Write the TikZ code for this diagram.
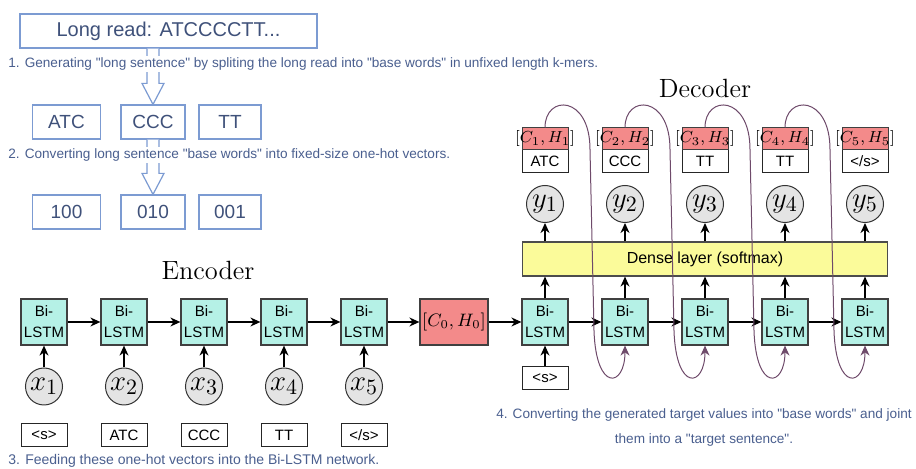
\documentclass[tikz,border=0pt]{standalone}
\usepackage{fontspec}
\newfontfamily\arialfont{Liberation Sans}
\usepackage{xcolor}
\definecolor{stepblue}{HTML}{4A5F8F}
\definecolor{boxblue}{HTML}{7C9BD2}
\definecolor{lstmcyan}{HTML}{B5F1E6}
\definecolor{statered}{HTML}{F38A8A}
\definecolor{denseyellow}{HTML}{FBFB9A}
\definecolor{circgray}{HTML}{E4E4E4}
\definecolor{loopplum}{HTML}{6E4A6A}
\usepackage{tikz}
\usetikzlibrary{arrows.meta,calc}

\begin{document}
\begin{tikzpicture}[
  x=0.5pt,y=-0.5pt,
  readbox/.style={draw=boxblue,line width=0.6pt,fill=white,minimum width=148.5pt,minimum height=17pt,inner sep=0pt,font=\arialfont\fontsize{10}{12}\selectfont,text=stepblue!85!black},
  stepbox/.style={draw=boxblue,line width=0.6pt,fill=white,minimum height=17pt,inner sep=0pt,font=\arialfont\fontsize{9.5}{11}\selectfont,text=stepblue!85!black},
  steptext/.style={fill=white,inner sep=1pt,text=stepblue,font=\arialfont\fontsize{6.8}{8}\selectfont},
  hollow/.style={draw=boxblue,fill=white,line width=0.6pt},
  title/.style={font=\fontsize{13.2}{15}\selectfont},
  lstm/.style={draw=black!75,line width=0.6pt,fill=lstmcyan,minimum size=23pt,inner sep=0pt,align=center,font=\arialfont\fontsize{7.5}{10.5}\selectfont},
  state/.style={draw=black!75,line width=0.6pt,fill=statered,minimum width=34pt,minimum height=23pt,inner sep=0pt,font=\fontsize{9}{10}\selectfont},
  chbox/.style={draw=black!75,line width=0.5pt,fill=statered,minimum width=23pt,minimum height=11pt,inner sep=0pt,font=\fontsize{8.2}{9}\selectfont},
  tok/.style={draw=black!85,line width=0.5pt,fill=white,minimum width=23pt,minimum height=11.5pt,inner sep=0pt,font=\arialfont\fontsize{7.5}{9}\selectfont},
  var/.style={circle,draw=black!80,line width=0.5pt,fill=circgray,minimum size=18.5pt,inner sep=0pt,font=\fontsize{15}{16}\selectfont},
  dense/.style={draw=black!70,line width=0.6pt,fill=denseyellow,minimum width=182.5pt,minimum height=17pt,inner sep=0pt,font=\arialfont\fontsize{8}{9}\selectfont},
  arr/.style={-{Stealth[length=5pt,width=4.5pt]},line width=0.75pt},
  fbcurve/.style={-{Stealth[length=5pt,width=4.5pt]},draw=loopplum,line width=0.5pt}
]
\useasboundingbox (0,0) rectangle (916,469);

% preprocessing of the long read
\node[readbox] (read) at (168.5,31) {Long read: ATCCCCTT...};
\node[stepbox,minimum width=34pt] (wATC) at (66.5,122) {ATC};
\node[stepbox,minimum width=32pt] (wCCC) at (153,122) {CCC};
\node[stepbox,minimum width=31pt] (wTT) at (230,122) {TT};
\node[stepbox,minimum width=34pt] (v100) at (66.5,212) {100};
\node[stepbox,minimum width=32pt] (v010) at (153,212) {010};
\node[stepbox,minimum width=31pt] (v001) at (230,212) {001};
\draw[hollow] ($(read.south -| wCCC.north)+(-6,0)$) -- ($(wCCC.north)+(-6,-21)$) -- ($(wCCC.north)+(-11,-21)$) -- (wCCC.north) -- ($(wCCC.north)+(11,-21)$) -- ($(wCCC.north)+(6,-21)$) -- ($(read.south -| wCCC.north)+(6,0)$);
\draw[hollow] ($(wCCC.south -| v010.north)+(-6,0)$) -- ($(v010.north)+(-6,-21)$) -- ($(v010.north)+(-11,-21)$) -- (v010.north) -- ($(v010.north)+(11,-21)$) -- ($(v010.north)+(6,-21)$) -- ($(wCCC.south -| v010.north)+(6,0)$);
\node[steptext,anchor=west] (step1) at (6,64) {1. Generating "long sentence" by spliting the long read into "base words" in unfixed length k-mers.};
\node[steptext,anchor=west] (step2) at (6,155) {2. Converting long sentence "base words" into fixed-size one-hot vectors.};

% encoder
\node[title] (enc) at (208,270) {Encoder};
\node[lstm] (e1) at (44,322) {Bi-\\LSTM};
\node[lstm] (e2) at (124,322) {Bi-\\LSTM};
\node[lstm] (e3) at (204,322) {Bi-\\LSTM};
\node[lstm] (e4) at (284,322) {Bi-\\LSTM};
\node[lstm] (e5) at (364,322) {Bi-\\LSTM};
\node[var] (x1) at (44,386.5) {$x_1$};
\node[var] (x2) at (124,386.5) {$x_2$};
\node[var] (x3) at (204,386.5) {$x_3$};
\node[var] (x4) at (284,386.5) {$x_4$};
\node[var] (x5) at (364,386.5) {$x_5$};
\node[tok] (t1) at (44,435.5) {<s>};
\node[tok] (t2) at (124,435.5) {ATC};
\node[tok] (t3) at (204,435.5) {CCC};
\node[tok] (t4) at (284,435.5) {TT};
\node[tok] (t5) at (364,435.5) {</s>};
\node[steptext,anchor=west,font=\arialfont\fontsize{7}{8}\selectfont] (step3) at (6,461) {3. Feeding these one-hot vectors into the Bi-LSTM network.};
\node[state] (c0) at (454,322) {$[C_0,H_0]$};

% decoder
\node[title] (dec) at (705,88) {Decoder};
\node[lstm] (d1) at (545,322) {Bi-\\LSTM};
\node[lstm] (d2) at (625,322) {Bi-\\LSTM};
\node[lstm] (d3) at (705,322) {Bi-\\LSTM};
\node[lstm] (d4) at (785,322) {Bi-\\LSTM};
\node[lstm] (d5) at (865,322) {Bi-\\LSTM};
\node[tok] (s0) at (545,378.5) {<s>};
\node[dense] (dense) at (705,259) {Dense layer (softmax)};
\node[var] (y1) at (545,204) {$y_1$};
\node[var] (y2) at (625,204) {$y_2$};
\node[var] (y3) at (705,204) {$y_3$};
\node[var] (y4) at (785,204) {$y_4$};
\node[var] (y5) at (865,204) {$y_5$};
\node[tok] (o1) at (545,161.5) {ATC};
\node[tok] (o2) at (625,161.5) {CCC};
\node[tok] (o3) at (705,161.5) {TT};
\node[tok] (o4) at (785,161.5) {TT};
\node[tok] (o5) at (865,161.5) {</s>};
\node[chbox] (h1) at (545,139) {\makebox[0pt]{$[C_1,H_1]$}};
\node[chbox] (h2) at (625,139) {\makebox[0pt]{$[C_2,H_2]$}};
\node[chbox] (h3) at (705,139) {\makebox[0pt]{$[C_3,H_3]$}};
\node[chbox] (h4) at (785,139) {\makebox[0pt]{$[C_4,H_4]$}};
\node[chbox] (h5) at (865,139) {\makebox[0pt]{$[C_5,H_5]$}};
\node[steptext,align=center,font=\arialfont\fontsize{6.8}{12.5}\selectfont] (step4) at (704,427.5) {4. Converting the generated target values into "base words" and joint\\them into a "target sentence".};

% connections
\draw[arr] (e1) -- (e2);
\draw[arr] (e2) -- (e3);
\draw[arr] (e3) -- (e4);
\draw[arr] (e4) -- (e5);
\draw[arr] (e5) -- (c0);
\draw[arr] (c0) -- (d1);
\draw[arr] (d1) -- (d2);
\draw[arr] (d2) -- (d3);
\draw[arr] (d3) -- (d4);
\draw[arr] (d4) -- (d5);
\draw[arr] (x1) -- (e1);
\draw[arr] (x2) -- (e2);
\draw[arr] (x3) -- (e3);
\draw[arr] (x4) -- (e4);
\draw[arr] (x5) -- (e5);
\draw[arr] (s0) -- (d1);
\draw[arr] (d1) -- (d1 |- dense.south);
\draw[arr] (d2) -- (d2 |- dense.south);
\draw[arr] (d3) -- (d3 |- dense.south);
\draw[arr] (d4) -- (d4 |- dense.south);
\draw[arr] (d5) -- (d5 |- dense.south);
\draw[arr] (y1 |- dense.north) -- (y1);
\draw[arr] (y2 |- dense.north) -- (y2);
\draw[arr] (y3 |- dense.north) -- (y3);
\draw[arr] (y4 |- dense.north) -- (y4);
\draw[arr] (y5 |- dense.north) -- (y5);

% feeding the outputs back
\draw[fbcurve] (h1.north) .. controls +(0,-33) and +(0,-55) .. ($(h1.north)+(45,22)$) -- ($(d2.south)+(-31,-15)$) .. controls +(2,62) and +(0,42) .. (d2.south);
\draw[fbcurve] (h2.north) .. controls +(0,-33) and +(0,-55) .. ($(h2.north)+(45,22)$) -- ($(d3.south)+(-31,-15)$) .. controls +(2,62) and +(0,42) .. (d3.south);
\draw[fbcurve] (h3.north) .. controls +(0,-33) and +(0,-55) .. ($(h3.north)+(45,22)$) -- ($(d4.south)+(-31,-15)$) .. controls +(2,62) and +(0,42) .. (d4.south);
\draw[fbcurve] (h4.north) .. controls +(0,-33) and +(0,-55) .. ($(h4.north)+(45,22)$) -- ($(d5.south)+(-31,-15)$) .. controls +(2,62) and +(0,42) .. (d5.south);
\end{tikzpicture}
\end{document}
